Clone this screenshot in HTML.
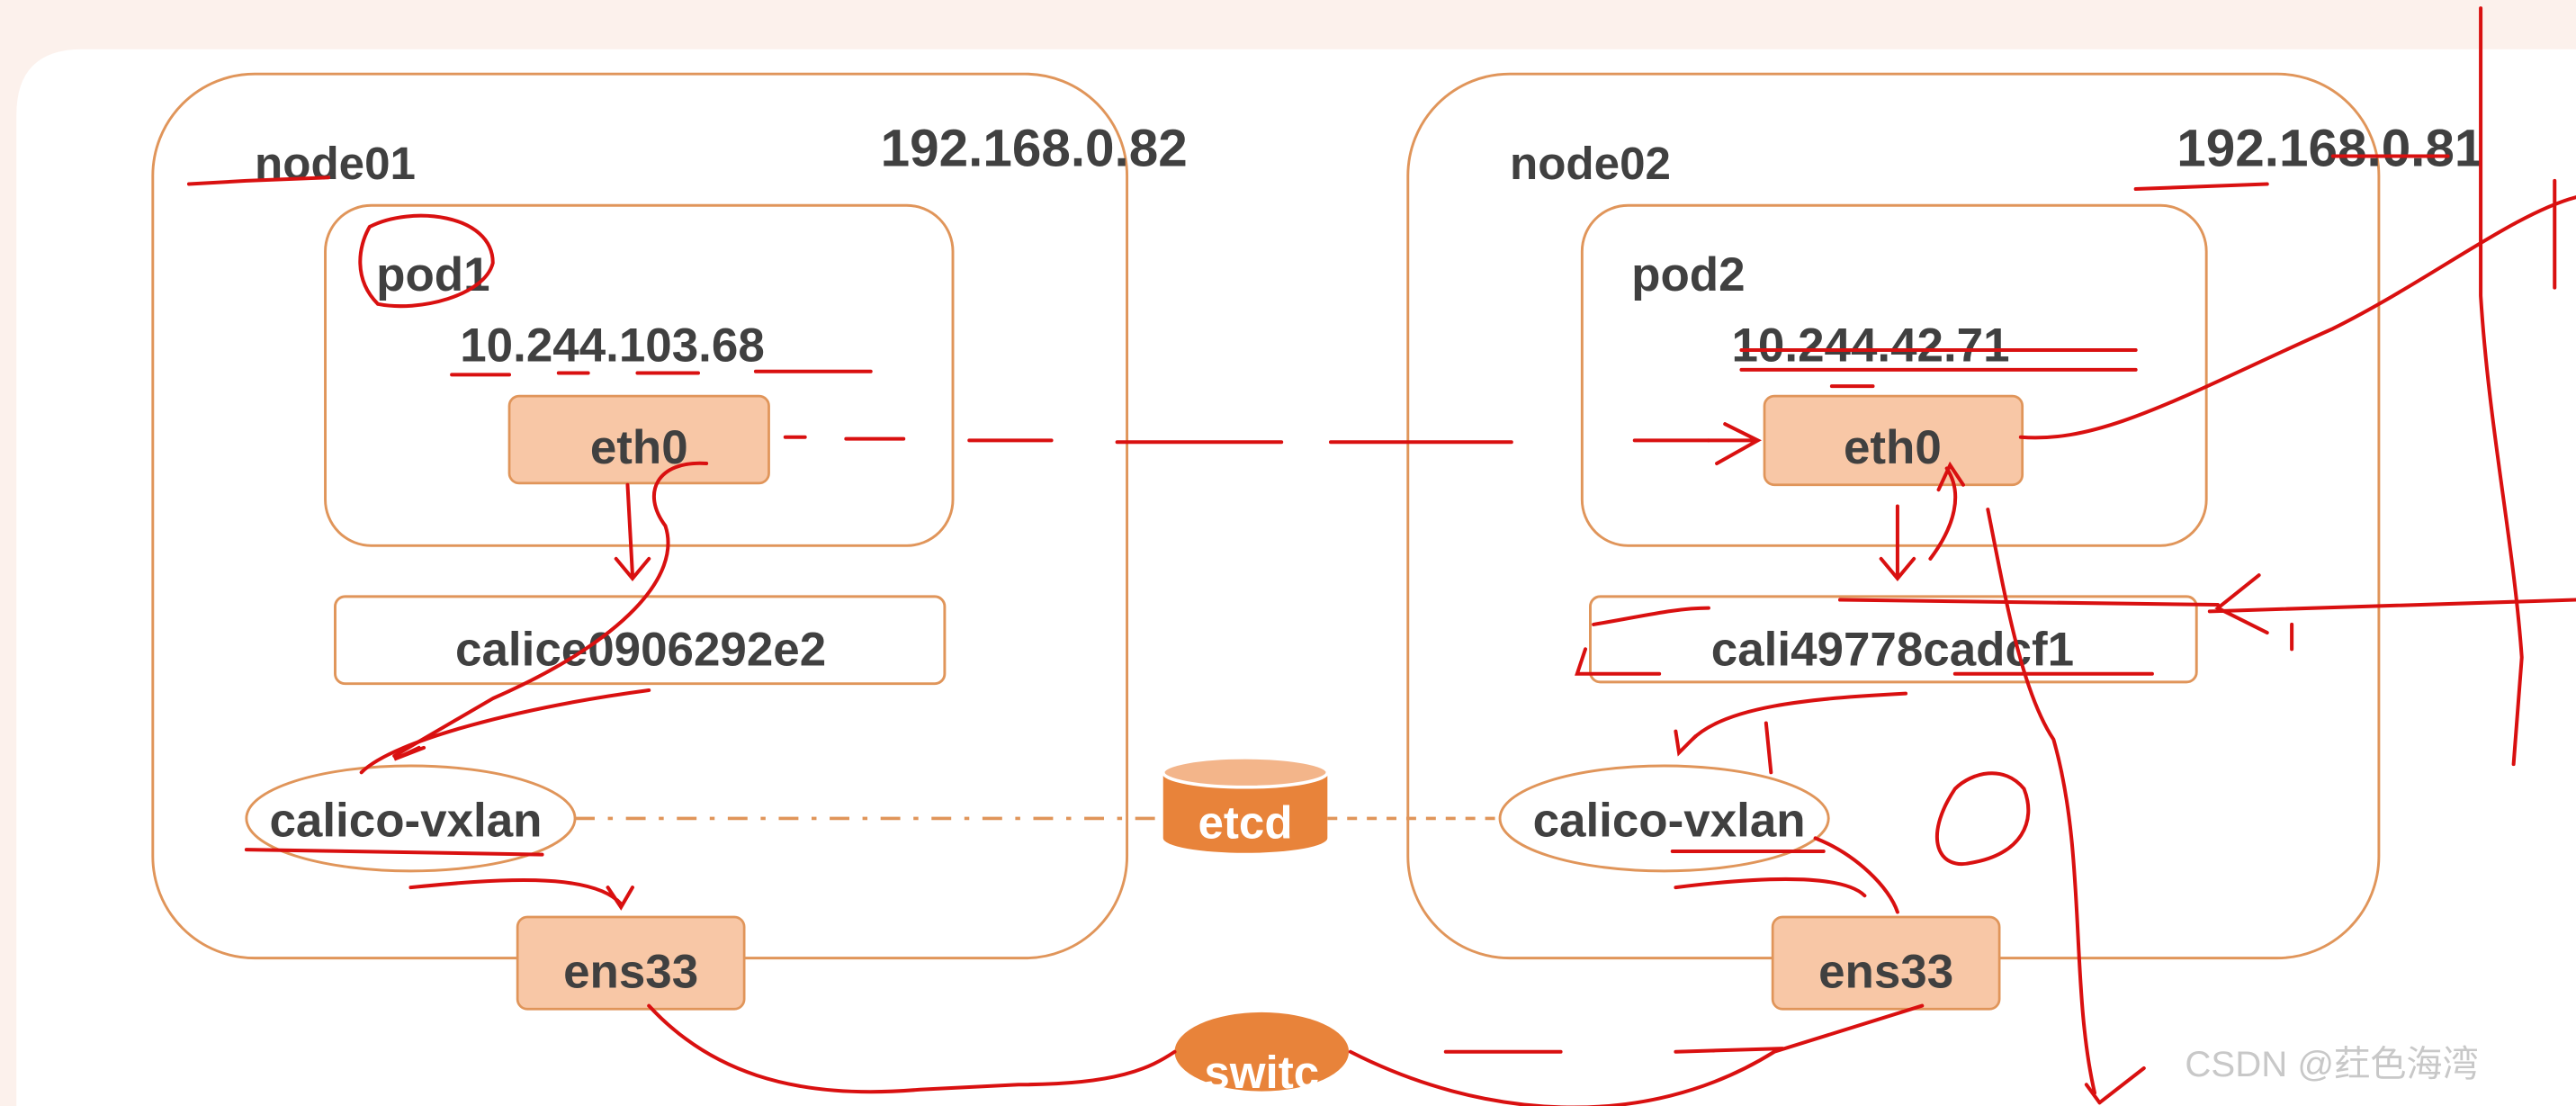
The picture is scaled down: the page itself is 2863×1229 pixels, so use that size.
<!DOCTYPE html>
<html><head><meta charset="utf-8"><style>
html,body{margin:0;padding:0;background:#fff;width:2863px;height:1229px;overflow:hidden}
svg{display:block}
text{font-family:"Liberation Sans","Noto Sans CJK SC",sans-serif;fill:#404040;font-weight:bold}
</style></head><body>
<svg width="2863" height="1229" viewBox="0 0 1568 673" preserveAspectRatio="none" xmlns="http://www.w3.org/2000/svg">
<rect x="0" y="0" width="1568" height="673" fill="#fcf1ec"/>
<path d="M10 673 L10 70 Q10 30 50 30 L1568 30 L1568 673 Z" fill="#ffffff"/>
<g fill="none" stroke="#e0955a" stroke-width="1.6">
<rect x="93" y="45" width="593" height="538" rx="62"/>
<rect x="857" y="45" width="591" height="538" rx="62"/>
<rect x="198" y="125" width="382" height="207" rx="28"/>
<rect x="963" y="125" width="380" height="207" rx="28"/>
<rect x="204" y="363" width="371" height="53" rx="6"/>
<rect x="968" y="363" width="369" height="52" rx="6"/>
<ellipse cx="250" cy="498" rx="100" ry="32"/>
<ellipse cx="1013" cy="498" rx="100" ry="32"/>
</g>
<g fill="#f8c7a6" stroke="#e0955a" stroke-width="1.5">
<rect x="310" y="241" width="158" height="53" rx="6"/>
<rect x="1074" y="241" width="157" height="54" rx="6"/>
<rect x="315" y="558" width="138" height="56" rx="6"/>
<rect x="1079" y="558" width="138" height="56" rx="6"/>
</g>
<line x1="350" y1="498" x2="708" y2="498" stroke="#e0955a" stroke-width="2" stroke-dasharray="12,8,3,8"/>
<line x1="808" y1="498" x2="912" y2="498" stroke="#e0955a" stroke-width="2" stroke-dasharray="6,6"/>
<path d="M708 470 L708 510 A50 9 0 0 0 808 510 L808 470 Z" fill="#e8833a"/>
<ellipse cx="758" cy="470" rx="50" ry="9" fill="#f3b58a" stroke="#fff" stroke-width="2"/>
<text x="758" y="510" font-size="28" text-anchor="middle" style="fill:#fff">etcd</text>
<ellipse cx="768" cy="640" rx="53" ry="24" fill="#e8833a"/>
<text x="768" y="662" font-size="28" text-anchor="middle" style="fill:#fff">switc</text>
<text x="155" y="109" font-size="28">node01</text>
<text x="919" y="109" font-size="28">node02</text>
<text x="536" y="101" font-size="32">192.168.0.82</text>
<text x="1325" y="101" font-size="32">192.168.0.81</text>
<text x="229" y="177" font-size="29">pod1</text>
<text x="993" y="177" font-size="29">pod2</text>
<text x="280" y="220" font-size="29">10.244.103.68</text>
<text x="1054" y="220" font-size="29">10.244.42.71</text>
<text x="389" y="282" font-size="29" text-anchor="middle">eth0</text>
<text x="1152" y="282" font-size="29" text-anchor="middle">eth0</text>
<text x="390" y="405" font-size="29" text-anchor="middle">calice0906292e2</text>
<text x="1152" y="405" font-size="29" text-anchor="middle">cali49778cadcf1</text>
<text x="247" y="509" font-size="29" text-anchor="middle">calico-vxlan</text>
<text x="1016" y="509" font-size="29" text-anchor="middle">calico-vxlan</text>
<text x="384" y="601" font-size="29" text-anchor="middle">ens33</text>
<text x="1148" y="601" font-size="29" text-anchor="middle">ens33</text>
<text x="1330" y="655" font-size="22" style="fill:#c8c8c8;font-weight:normal">CSDN @荭色海湾</text>
<g fill="none" stroke="#d91010" stroke-width="2.2" stroke-linecap="round">
<path d="M115 112 L150 110 L200 108"/>
<path d="M225 138 C250 125 300 130 300 160 C295 180 255 190 230 185 C215 170 218 150 225 138"/>
<path d="M275 228 L310 228 M340 227 L358 227 M388 227 L425 227 M460 226 L530 226"/>
<path d="M478 266 L490 266 M515 267 L550 267 M590 268 L640 268 M680 269 L780 269 M810 269 L920 269 M995 268 L1040 268"/>
<path d="M1040 268 L1070 268 M1050 258 L1070 268 L1045 282"/>
<path d="M382 295 L385 350 M375 340 L385 352 L395 340"/>
<path d="M430 282 C400 280 390 300 405 320 C415 350 380 390 300 425 L240 460 M255 455 L240 462 L258 455"/>
<path d="M395 420 C320 430 240 450 220 470"/>
<path d="M150 517 L330 520"/>
<path d="M250 540 C300 535 360 530 378 550 M370 540 L378 552 L385 540"/>
<path d="M395 612 C430 650 480 670 560 663 L620 660 M715 640 C700 650 680 660 620 660"/>
<path d="M822 640 C900 680 1000 690 1080 640 L1170 612 M880 640 L950 640 M1020 640 L1085 638"/>
<path d="M1060 213 L1300 213 M1060 225 L1300 225 M1115 235 L1140 235"/>
<path d="M1230 266 C1280 270 1330 240 1420 200 C1480 170 1530 130 1568 120"/>
<path d="M1155 308 L1155 350 M1145 340 L1155 352 L1165 340"/>
<path d="M1175 340 C1190 320 1195 300 1185 285 M1180 298 L1187 283 L1195 295"/>
<path d="M1210 310 C1220 360 1230 420 1250 450 C1270 520 1260 600 1275 665"/>
<path d="M970 380 C1000 375 1020 370 1040 370 M965 395 L960 410 L1010 410 M1120 365 L1350 368 M1190 410 L1310 410"/>
<path d="M1345 372 L1568 365 M1375 350 L1350 370 L1380 385"/>
<path d="M1160 422 C1100 425 1050 430 1030 450 M1020 445 L1022 458 L1032 448"/>
<path d="M1075 440 L1078 470"/>
<path d="M1018 518 L1110 518 M1020 540 C1060 535 1120 530 1135 545 M1105 510 C1130 520 1150 540 1155 555"/>
<path d="M1190 480 C1170 510 1180 530 1200 525 C1230 520 1240 500 1232 480 C1220 465 1200 470 1190 480"/>
<path d="M1420 95 L1490 95 M1510 5 L1510 180 C1515 260 1530 330 1535 400 L1530 465"/>
<path d="M1555 110 L1555 175 M1300 115 L1380 112 M1395 380 L1395 395"/>
<path d="M1270 660 L1278 671 M1278 671 L1305 650"/>
</g>
</svg>
</body></html>
